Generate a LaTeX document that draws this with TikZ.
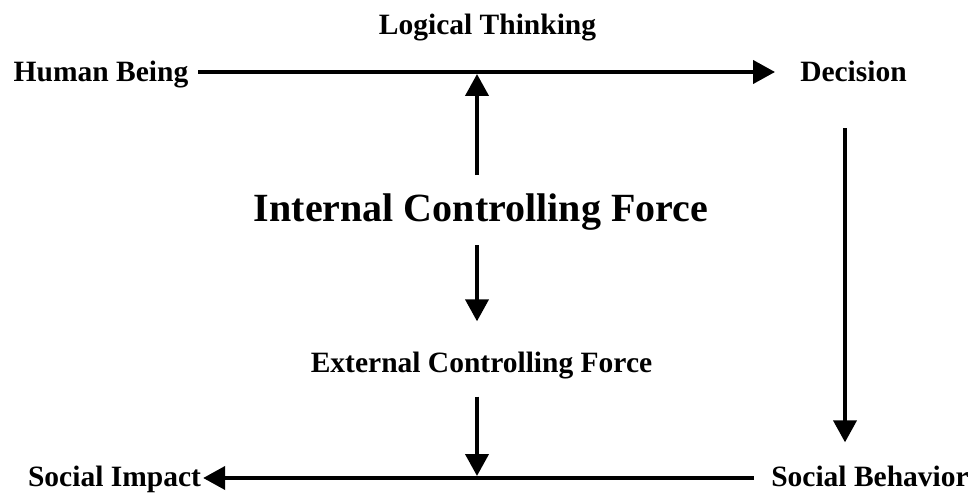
\documentclass[tikz,border=0pt]{standalone}
\usepackage{fontspec}
\setmainfont{Liberation Serif}
\usetikzlibrary{arrows.meta}
\begin{document}
\begin{tikzpicture}[x=1pt,y=1pt,
  lbl/.style={inner sep=0pt, anchor=base, font=\fontsize{29.5}{30}\selectfont\bfseries},
  biglbl/.style={inner sep=0pt, anchor=base, font=\fontsize{40}{42}\selectfont\bfseries},
  arr/.style={line width=4pt, -{Triangle[length=22pt,width=23pt]}}]
\useasboundingbox (0,0) rectangle (974,493);
\node[lbl] (lt) at (487.5,458) {Logical Thinking};
\node[lbl] (hb) at (101,411) {Human Being};
\node[lbl] (dec) at (853.5,411) {Decision};
\node[biglbl] (icf) at (481,271) {Internal Controlling Force};
\node[lbl] (ecf) at (481.5,121) {External Controlling Force};
\node[lbl] (si) at (114.5,7) {Social Impact};
\node[lbl] (sb) at (870,7) {Social Behavior};
\coordinate (tmid) at (477,421);
\coordinate (bmid) at (477,15);
\coordinate (rx) at (845,0);
\draw[arr, shorten <=10pt, shorten >=25pt] (hb.east |- tmid) -- (dec.west |- tmid);
\draw[arr, shorten <=19pt, shorten >=2pt] (icf.north -| tmid) -- (tmid);
\draw[arr, shorten <=14pt, shorten >=30pt] (icf.south -| tmid) -- (ecf.north -| tmid);
\draw[arr, shorten <=18pt, shorten >=2pt] (ecf.south -| bmid) -- (bmid);
\draw[arr, shorten <=46pt, shorten >=23pt] (dec.south -| rx) -- (sb.north -| rx);
\draw[arr, shorten <=17pt, shorten >=2pt] (sb.west |- bmid) -- (si.east |- bmid);
\end{tikzpicture}
\end{document}
